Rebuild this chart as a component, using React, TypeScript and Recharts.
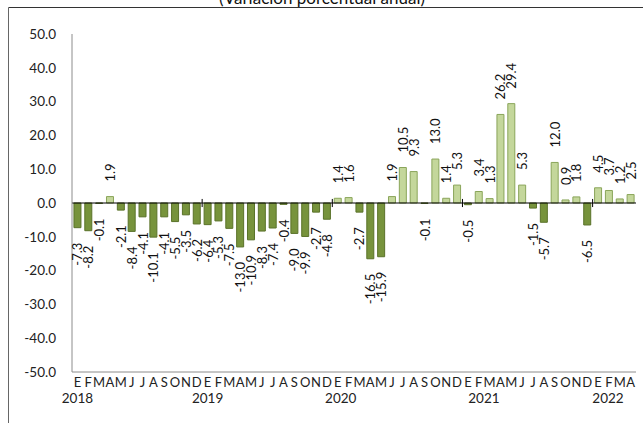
import React from 'react';
import { BarChart, Bar, XAxis, YAxis, Cell, LabelList, ReferenceLine } from 'recharts';

// ─── Data ─────────────────────────────────────────────────────────────────────
const MONTHS = ['E', 'F', 'M', 'A', 'M', 'J', 'J', 'A', 'S', 'O', 'N', 'D'];
const YEARS = ['2018', '2019', '2020', '2021', '2022'];

const V2018 = [-7.3, -8.2, -0.1, 1.9, -2.1, -8.4, -4.1, -10.1, -4.1, -5.5, -3.5, -6.2];
const V2019 = [-6.4, -5.3, -7.5, -13.0, -10.9, -8.3, -7.4, -0.4, -9.0, -9.9, -2.7, -4.8];
const V2020 = [1.4, 1.6, -2.7, -16.5, -15.9, 1.9, 10.5, 9.3, -0.1, 13.0, 1.4, 5.3];
const V2021 = [-0.5, 3.4, 1.3, 26.2, 29.4, 5.3, -1.5, -5.7, 12.0, 0.9, 1.8, -6.5];
const V2022 = [4.5, 3.7, 1.2, 2.5];

const SERIES = [V2018, V2019, V2020, V2021, V2022];
const Y_TICKS = [-50, -40, -30, -20, -10, 0, 10, 20, 30, 40, 50];

// horizontal nudge for the year captions (Excel does not centre them evenly)
const YEAR_DX = [0, 0, 3, 16, 10];

const data = YEARS.flatMap((yr, yi) =>
  SERIES[yi].map((v, mi) => ({
    key: `${yr}-${mi + 1}`,
    month: MONTHS[mi],
    year: mi === 0 ? yr : '',
    yearIdx: yi,
    value: v,
  }))
);
const byKey = new Map(data.map((d) => [d.key, d]));
const yearStarts = data.filter((d) => d.year && d.yearIdx > 0).map((d) => d.key);

// ─── Style ────────────────────────────────────────────────────────────────────
const FONT = "Lato, 'Open Sans', sans-serif";
const DARK = '#77933C';
const DARK_EDGE = '#5a7229';
const LIGHT = '#C4D79B';
const LIGHT_EDGE = '#8aa55a';
const FRAME = '#8c8c8c';

const MonthTick = (props: any) => {
  const { x, y, payload } = props;
  const row = byKey.get(payload.value);
  if (!row) return null;
  return (
    <g>
      <text x={x} y={y + 15} textAnchor="middle" fontSize={13} fontFamily={FONT} fill="#222">
        {row.month}
      </text>
      {row.year && (
        <text
          x={x + YEAR_DX[row.yearIdx]}
          y={y + 31}
          textAnchor="middle"
          fontSize={13.5}
          fontFamily={FONT}
          fill="#222"
        >
          {row.year}
        </text>
      )}
    </g>
  );
};

const BarLabel = (props: any) => {
  const { x, y, width, height, value } = props;
  const v = Number(value);
  const cx = Number(x) + Number(width) / 2;
  const top = Math.min(Number(y), Number(y) + Number(height));
  const bottom = Math.max(Number(y), Number(y) + Number(height));
  const ay = v >= 0 ? top - 15 : bottom + 15;
  return (
    <text
      x={cx}
      y={ay}
      transform={`rotate(-90 ${cx} ${ay})`}
      textAnchor={v >= 0 ? 'start' : 'end'}
      dominantBaseline="central"
      fontSize={13}
      fontFamily={FONT}
      fill="#111"
    >
      {v.toFixed(1)}
    </text>
  );
};

export default function App() {
  return (
    <div style={{ position: 'absolute', left: 0, top: 0, width: 643, height: 423, background: '#fff' }}>
      <BarChart
        width={643}
        height={423}
        data={data}
        margin={{ top: 34, right: 7, left: 8, bottom: 11 }}
        barCategoryGap="18%"
      >
        <XAxis
          dataKey="key"
          interval={0}
          height={40}
          tickLine={false}
          tickSize={0}
          tickMargin={0}
          axisLine={{ stroke: FRAME }}
          tick={<MonthTick />}
        />
        <XAxis xAxisId="top" dataKey="key" orientation="top" height={0} tick={false} tickLine={false} axisLine={{ stroke: FRAME }} />
        <YAxis
          domain={[-50, 50]}
          ticks={Y_TICKS}
          width={64}
          tickLine={false}
          tickMargin={10}
          axisLine={{ stroke: FRAME }}
          tickFormatter={(v: number) => v.toFixed(1)}
          tick={{ fontSize: 13.5, fontFamily: FONT, fill: '#222' }}
        />
        <YAxis yAxisId="right" orientation="right" domain={[-50, 50]} width={0} tick={false} tickLine={false} axisLine={{ stroke: FRAME }} />
        <Bar dataKey="value" isAnimationActive={false} strokeWidth={1}>
          {data.map((d) => (
            <Cell key={d.key} fill={d.value < 0 ? DARK : LIGHT} stroke={d.value < 0 ? DARK_EDGE : LIGHT_EDGE} />
          ))}
          <LabelList dataKey="value" content={<BarLabel />} />
        </Bar>
        <ReferenceLine y={0} stroke="#000" strokeWidth={1} />
        {yearStarts.map((k) => (
          <ReferenceLine
            key={k}
            segment={[{ x: k, y: -1.2 }, { x: k, y: 1.2 }]}
            position="start"
            stroke="#000"
          />
        ))}
      </BarChart>
      <svg width={643} height={423} style={{ position: 'absolute', left: 0, top: 0, pointerEvents: 'none' }}>
        <line x1={8.5} y1={7.5} x2={643} y2={7.5} stroke="#333" />
        <line x1={8.5} y1={7.5} x2={8.5} y2={423} stroke="#666" />
        <text x={322} y={4} textAnchor="middle" fontSize={17} fontFamily={FONT} fill="#111">
          (Variación porcentual anual)
        </text>
      </svg>
    </div>
  );
}
